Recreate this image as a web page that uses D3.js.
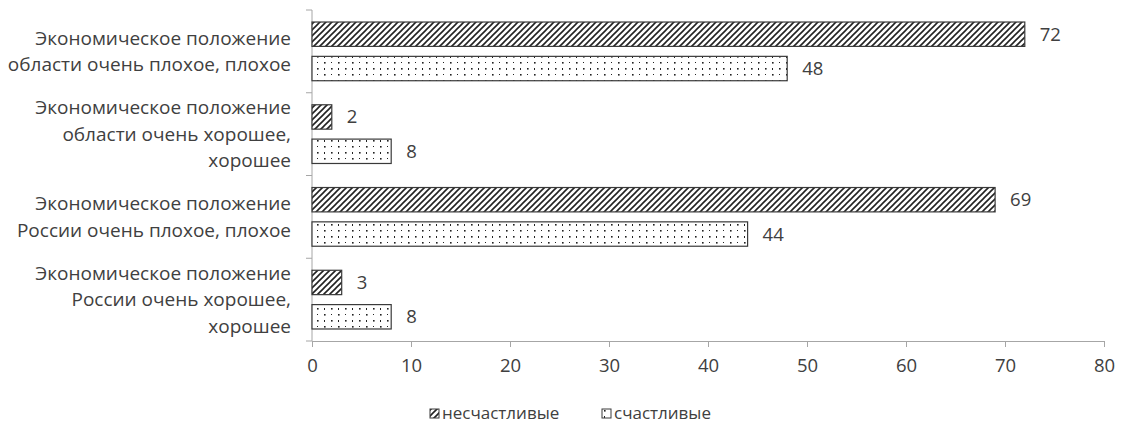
<!DOCTYPE html>
<html>
<head>
<meta charset="utf-8">
<script src="https://cdn.jsdelivr.net/npm/d3@7/dist/d3.min.js"></script>
<style>
  html, body { margin: 0; padding: 0; background: #fff; }
  svg { display: block; }
  text { font-family: "Open Sans", "Noto Sans", sans-serif; fill: #404040; }
</style>
</head>
<body>
<svg id="chart" width="1125" height="426"></svg>
<script>
// Categories (top to bottom), each label split into lines
const categories = [
  ["Экономическое положение", "области очень плохое, плохое"],
  ["Экономическое положение", "области очень хорошее,", "хорошее"],
  ["Экономическое положение", "России очень плохое, плохое"],
  ["Экономическое положение", "России очень хорошее,", "хорошее"]
];
const seriesNames = ["несчастливые", "счастливые"];
const unhappy = [72, 2, 69, 3];
const happy = [48, 8, 44, 8];
const xTicks = [0, 10, 20, 30, 40, 50, 60, 70, 80];

const svg = d3.select("#chart");
const labelSize = 19;
const numSize = 18.5;
const legendSize = 17;

// Fill patterns: upward diagonal hatch and dotted grid
const defs = svg.append("defs");
const hatch = defs.append("pattern")
  .attr("id", "hatch").attr("patternUnits", "userSpaceOnUse")
  .attr("width", 6).attr("height", 6);
hatch.append("rect").attr("width", 6).attr("height", 6).attr("fill", "#fff");
hatch.append("path")
  .attr("d", "M-1,7 L7,-1 M-4,4 L4,-4 M2,10 L10,2")
  .attr("stroke", "#222").attr("stroke-width", 1.6);

const dots = defs.append("pattern")
  .attr("id", "dots").attr("patternUnits", "userSpaceOnUse")
  .attr("width", 14).attr("height", 12);
dots.append("rect").attr("width", 14).attr("height", 12).attr("fill", "#fff");
[[2, 2, 1.6, 1.6], [9, 2, 1, 1], [2, 8, 1, 2], [9, 8, 1.6, 1.6]].forEach(([x, y, w, h]) => {
  dots.append("rect").attr("x", x).attr("y", y).attr("width", w).attr("height", h).attr("fill", "#222");
});

const x = d3.scaleLinear().domain([0, 80]).range([312, 1104]);
const y = d3.scaleBand().domain(d3.range(categories.length)).range([10, 341]).paddingInner(0).paddingOuter(0);
const sub = d3.scaleBand().domain([0, 1]).range([0, y.bandwidth()]).paddingInner(0.29).paddingOuter(0.35);

const axisColor = "#a6a6a6";

// X axis
const xAxis = svg.append("g").attr("transform", `translate(0,${y.range()[1]})`)
  .call(d3.axisBottom(x).tickValues(xTicks).tickSize(6).tickSizeOuter(0).tickPadding(12));
xAxis.select(".domain").attr("stroke", axisColor);
xAxis.selectAll(".tick line").attr("stroke", axisColor);
xAxis.selectAll(".tick text").style("font-size", numSize + "px")
  .style("font-family", '"Open Sans", sans-serif').attr("fill", "#404040");

// Y axis line with ticks at band boundaries
const yAxisG = svg.append("g");
yAxisG.append("line").attr("x1", x(0)).attr("x2", x(0))
  .attr("y1", y.range()[0]).attr("y2", y.range()[1]).attr("stroke", axisColor);
d3.range(categories.length + 1).forEach(i => {
  const yy = y.range()[0] + i * y.step();
  yAxisG.append("line").attr("x1", x(0) - 6).attr("x2", x(0))
    .attr("y1", yy).attr("y2", yy).attr("stroke", axisColor);
});

// Category labels
const lineH = 26.5;
categories.forEach((lines, i) => {
  const cy = y(i) + y.bandwidth() / 2;
  const t = svg.append("text").attr("text-anchor", "end")
    .style("font-size", labelSize + "px");
  lines.forEach((ln, j) => {
    t.append("tspan").attr("x", 291)
      .attr("y", cy + (j - (lines.length - 1) / 2) * lineH)
      .attr("dy", "0.35em").text(ln);
  });
});

// Bars
const series = [unhappy, happy];
const fills = ["url(#hatch)", "url(#dots)"];
series.forEach((vals, s) => {
  svg.append("g").selectAll("rect").data(vals).join("rect")
    .attr("x", x(0))
    .attr("y", (d, i) => y(i) + sub(s))
    .attr("width", d => x(d) - x(0))
    .attr("height", sub.bandwidth())
    .attr("fill", fills[s])
    .attr("stroke", "#3a3a3a").attr("stroke-width", 1.2);
  svg.append("g").selectAll("text").data(vals).join("text")
    .attr("x", d => x(d) + 15)
    .attr("y", (d, i) => y(i) + sub(s) + sub.bandwidth() / 2)
    .attr("dy", "0.35em")
    .style("font-size", numSize + "px")
    .text(d => d);
});

// Legend
const legendItems = [
  { name: seriesNames[0], fill: fills[0], x: 430 },
  { name: seriesNames[1], fill: fills[1], x: 602 }
];
const lg = svg.append("g");
legendItems.forEach(it => {
  lg.append("rect").attr("x", it.x).attr("y", 409).attr("width", 9).attr("height", 9)
    .attr("fill", it.fill).attr("stroke", "#3a3a3a").attr("stroke-width", 1);
  lg.append("text").attr("x", it.x + 12).attr("y", 413).attr("dy", "0.35em")
    .style("font-size", legendSize + "px").text(it.name);
});
</script>
</body>
</html>
